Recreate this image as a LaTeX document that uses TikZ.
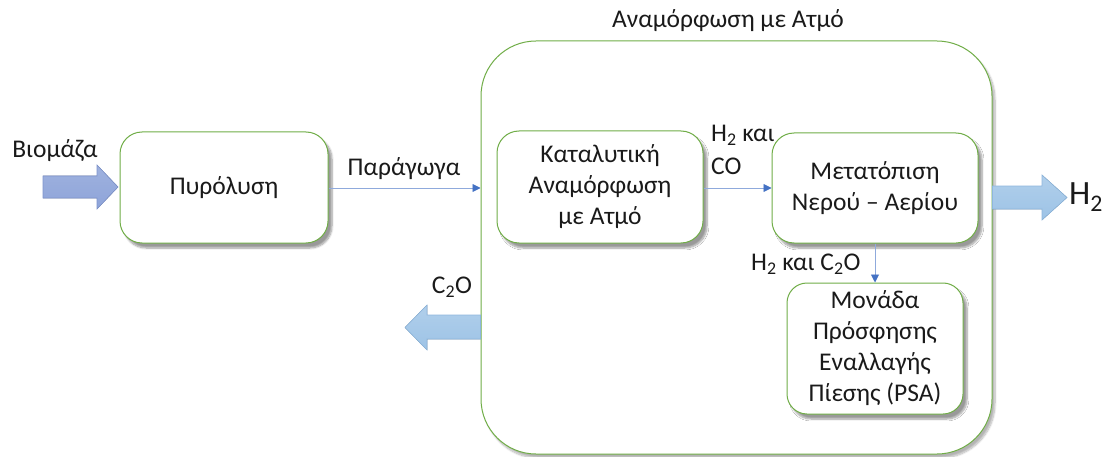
\documentclass[tikz,border=0pt]{standalone}
\usepackage{fontspec}
\setmainfont{Carlito}
\usetikzlibrary{arrows.meta,shadows.blur}
\definecolor{boxgreen}{HTML}{70AD47}
\definecolor{linkblue}{HTML}{4472C4}
\definecolor{thinblue}{HTML}{8FAADC}
\definecolor{bioblue}{HTML}{8EA4D9}
\definecolor{bioedge}{HTML}{7E94CC}
\definecolor{lightblue}{HTML}{9DC3E6}
\definecolor{lightedge}{HTML}{8DB6DD}
\definecolor{txt}{HTML}{1A1A1A}
\tikzset{
  procbox/.style={draw=boxgreen, line width=1pt, fill=white, rounded corners=22pt,
    align=center, text=txt, font=\fontsize{25.5}{31}\selectfont,
    blur shadow={shadow xshift=4pt, shadow yshift=-5pt, shadow blur steps=8, shadow opacity=40}},
  groupbox/.style={draw=boxgreen, line width=1pt, fill=white, rounded corners=55pt,
    blur shadow={shadow xshift=3pt, shadow yshift=-4pt, shadow blur steps=8, shadow opacity=30}},
  flow/.style={draw=thinblue, line width=0.9pt, -{Triangle[length=8pt,width=8pt,color=linkblue]}},
  lbl/.style={text=txt, font=\fontsize{25.5}{30}\selectfont, inner sep=0pt},
  bigarrow/.style={line width=0.6pt}
}
\begin{document}
\begin{tikzpicture}[x=1pt,y=-1pt]
\useasboundingbox (0,0) rectangle (1115,457);
% group
\node[groupbox, minimum width=511pt, minimum height=413pt, inner sep=0pt] (cont) at (736.5,247.5) {};
\node[lbl] (title) at (728,21) {Αναμόρφωση με Ατμό};
% process boxes
\node[procbox, minimum width=208pt, minimum height=111pt] (pyro) at (224,187.5) {Πυρόλυση};
\node[procbox, minimum width=206pt, minimum height=112pt] (cat) at (600,187) {Καταλυτική\\Αναμόρφωση\\με Ατμό};
\node[procbox, minimum width=206pt, minimum height=110pt] (shift) at (875,188) {Μετατόπιση\\Νερού – Αερίου};
\node[procbox, minimum width=176pt, minimum height=131pt, rounded corners=20pt] (psa) at (875,348.5) {Μονάδα\\Πρόσφησης\\Εναλλαγής\\Πίεσης (PSA)};
% thin flows
\coordinate (pin) at (pyro.east |- 0,188);
\draw[flow] (pin) -- (pin -| cont.west);
\draw[flow] (cat.east |- 0,188) -- (shift.west |- 0,188);
\draw[flow] (shift.south) -- (psa.north);
% labels
\node[lbl] (bio) at (55,151) {Βιομάζα};
\node[lbl] (prod) at (404,169) {Παράγωγα};
\node[lbl, anchor=west] (h2co1) at (711,135) {H\textsubscript{2} και};
\node[lbl, anchor=west] (h2co2) at (711,166) {CO};
\node[lbl, anchor=west] (h2c2o) at (751,264) {H\textsubscript{2} και C\textsubscript{2}O};
\node[lbl] (c2o) at (452,287) {C\textsubscript{2}O};
\node[text=txt, font=\fontsize{34}{40}\selectfont, inner sep=0pt, anchor=west] (h2out) at (1069,197) {H\textsubscript{2}};
% block arrows
\filldraw[bigarrow, draw=bioedge, top color=bioblue!85!white, bottom color=bioblue]
  (43,176) -- (97,176) -- (97,165) -- (118,187) -- (97,209) -- (97,198) -- (43,198) -- cycle;
\filldraw[bigarrow, draw=lightedge, top color=lightblue!80!white, bottom color=lightblue]
  (cont.east |- 0,186) -- (1042,186) -- (1042,175) -- (1067,197.5) -- (1042,220) -- (1042,209) -- (cont.east |- 0,209) -- cycle;
\filldraw[bigarrow, draw=lightedge, top color=lightblue!80!white, bottom color=lightblue]
  (cont.west |- 0,315) -- (427,315) -- (427,305) -- (405,327.5) -- (427,350) -- (427,339) -- (cont.west |- 0,339) -- cycle;
\end{tikzpicture}
\end{document}
